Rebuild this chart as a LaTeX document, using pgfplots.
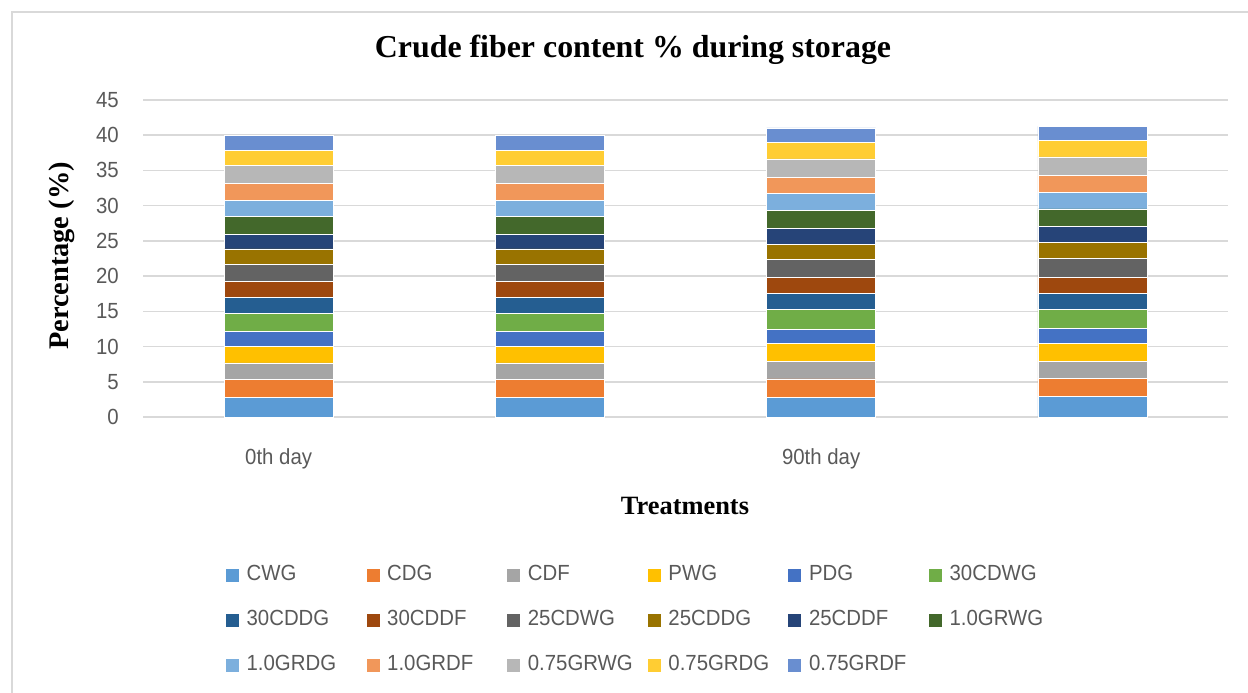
\documentclass[border=0pt]{standalone}
\usepackage{pgfplots}
\usepackage{pgfplotstable}
\pgfplotsset{compat=1.18}
\usepackage{fontspec}
\setmainfont{Liberation Serif}
\newfontfamily\lab[FakeStretch=0.93]{Liberation Sans}

\definecolor{c1}{HTML}{5B9BD5}
\definecolor{c2}{HTML}{ED7D31}
\definecolor{c3}{HTML}{A5A5A5}
\definecolor{c4}{HTML}{FFC000}
\definecolor{c5}{HTML}{4472C4}
\definecolor{c6}{HTML}{70AD47}
\definecolor{c7}{HTML}{255E91}
\definecolor{c8}{HTML}{9E480E}
\definecolor{c9}{HTML}{636363}
\definecolor{c10}{HTML}{997300}
\definecolor{c11}{HTML}{264478}
\definecolor{c12}{HTML}{43682B}
\definecolor{c13}{HTML}{7CAFDD}
\definecolor{c14}{HTML}{F1975A}
\definecolor{c15}{HTML}{B7B7B7}
\definecolor{c16}{HTML}{FFCD33}
\definecolor{c17}{HTML}{698ED0}
\definecolor{gridgray}{HTML}{D9D9D9}
\definecolor{labgray}{HTML}{595959}

\pgfplotstableread{
x s1 s2 s3 s4 s5 s6 s7 s8 s9 s10 s11 s12 s13 s14 s15 s16 s17
0 2.84 2.51 2.32 2.31 2.13 2.61 2.27 2.27 2.36 2.23 2.09 2.50 2.32 2.42 2.49 2.19 2.07
1 2.84 2.51 2.32 2.31 2.13 2.61 2.27 2.27 2.36 2.23 2.09 2.50 2.32 2.42 2.49 2.19 2.07
2 2.84 2.56 2.51 2.55 2.03 2.74 2.33 2.27 2.56 2.13 2.27 2.50 2.41 2.33 2.60 2.31 2.09
3 2.88 2.56 2.41 2.56 2.18 2.70 2.27 2.27 2.64 2.33 2.22 2.51 2.37 2.41 2.60 2.32 2.04
}\datatable

\begin{document}
\begin{tikzpicture}[x=1bp,y=1bp]
\path[use as bounding box] (0,0) rectangle (1248,-693);
\draw[gridgray, line width=2.5bp] (12,-693) -- (12,-12) -- (1248,-12);
\begin{axis}[
  at={(143bp,-417bp)}, anchor=south west,
  scale only axis, width=1085bp, height=317bp,
  xmin=-0.5, xmax=3.5, ymin=0, ymax=45,
  ybar stacked, bar width=109bp,
  ytick={0,5,...,45},
  xtick={0,2}, xticklabels={0th day, 90th day},
  ymajorgrids, major grid style={draw=gridgray, line width=1.5bp},
  axis line style={draw=none},
  major tick length=0pt,
  /pgf/number format/assume math mode=true,
  ticklabel style={font=\lab\fontsize{22}{26}\selectfont, text=labgray},
  yticklabel style={anchor=east, inner sep=0pt, xshift=-24bp},
  xticklabel style={anchor=base, inner sep=0pt, yshift=-47bp},
  legend columns=6,
  legend cell align=left,
  legend style={draw=none, fill=none, inner sep=0pt, outer sep=0pt,
    at={(0.0756,-0.4685)}, anchor=north west,
    /tikz/every odd column/.append style={column sep=7bp},
    /tikz/every even column/.append style={column sep=0bp},
    row sep=25bp,
    nodes={inner sep=0pt, text width=119bp, text height=15bp, text depth=5bp,
      font=\lab\fontsize{22}{26}\selectfont, text=labgray}},
  legend image code/.code={\fill[#1] (0bp,-7bp) rectangle (14bp,7bp);},
  every axis plot/.append style={draw=white, line width=0.6bp},
]
\pgfplotsinvokeforeach{1,...,17}{
  \addplot[fill=c#1] table[x=x, y=s#1] {\datatable};
}
\legend{CWG, CDG, CDF, PWG, PDG, 30CDWG, 30CDDG, 30CDDF, 25CDWG, 25CDDG, 25CDDF, 1.0GRWG, 1.0GRDG, 1.0GRDF, 0.75GRWG, 0.75GRDG, 0.75GRDF}
\end{axis}
\node[font=\bfseries\fontsize{32}{36}\selectfont] at (633,-50) {Crude fiber content \% during storage};
\node[font=\bfseries\fontsize{26.5}{30}\selectfont] at (685,-506) {Treatments};
\node[font=\bfseries\fontsize{28.5}{32}\selectfont, rotate=90] at (62,-256) {Percentage (\%)};
\end{tikzpicture}
\end{document}
